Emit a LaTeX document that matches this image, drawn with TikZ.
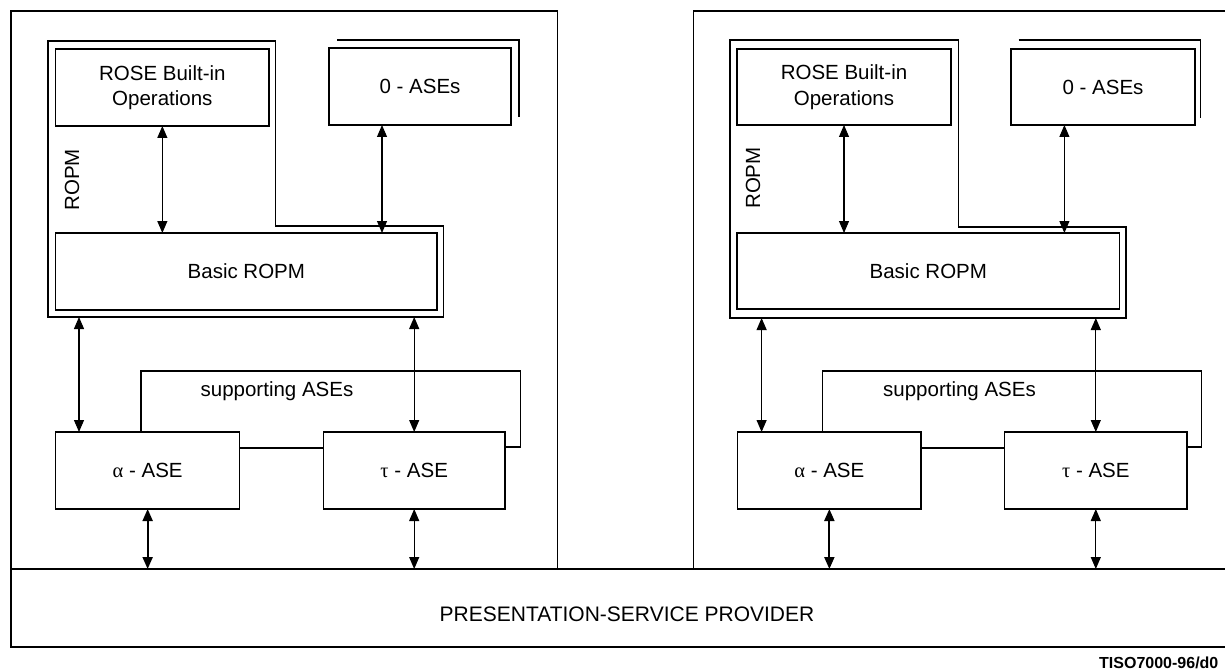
\documentclass[tikz,border=0pt]{standalone}
\usepackage{fontspec}
\setmainfont{Liberation Sans}
\newfontfamily\grk{Liberation Serif}
\usetikzlibrary{arrows.meta}
\newcommand\diaglabel{\fontsize{20.5}{25.5}\selectfont}

\begin{document}
\begin{tikzpicture}[x=1pt,y=-1pt,
  box/.style={draw, line width=1.4pt, outer sep=0pt, inner sep=0pt,
              anchor=north west, align=center, font=\diaglabel},
  frame/.style={draw, line width=1.3pt},
  outline/.style={draw, line width=1.2pt},
  biarrow/.style={{Triangle[length=12pt,width=10pt]}-{Triangle[length=12pt,width=10pt]},
                  line width=1.1pt},
  thickarrow/.style={biarrow, line width=2pt},
  txt/.style={font=\diaglabel, inner sep=0pt}]

\clip (0,0) rectangle (1225,671);

% ---------- presentation service provider ----------
\node[box, line width=1.3pt, minimum width=1240pt, minimum height=78pt] (prov) at (11,569) {};
\node[txt, font=\fontsize{21}{25}\selectfont] (provtext) at (627,614) {PRESENTATION-SERVICE PROVIDER};
\node[font=\bfseries\fontsize{16}{19}\selectfont, anchor=west, inner sep=0pt] (code) at (1099,663) {TISO7000-96/d0};

% ======================= left application entity =======================
\draw[frame] (11,11) rectangle (557.5,569);

\coordinate (oL1) at (48,41);
\coordinate (oL2) at (275.6,41);
\coordinate (oL3) at (275.6,226);
\coordinate (oL4) at (443.6,226);
\coordinate (oL5) at (443.6,317);
\coordinate (oL6) at (48,317);
\draw[outline] (oL1) -- (oL2) -- (oL3) -- (oL4) -- (oL5) -- (oL6) -- cycle;
\node[txt, rotate=90] (ropmL) at (72,180) {ROPM};

\node[box, minimum width=213.3pt, minimum height=77pt] (roseL) at (55.7,49) {ROSE Built-in\\Operations};
\node[box, minimum width=182pt, minimum height=77pt] (aseL) at (329,48) {0 - ASEs};
\draw[line width=1.3pt] ([shift={(8,-8)}]aseL.north west) -| ([shift={(8,-8)}]aseL.south east);
\node[box, minimum width=381.3pt, minimum height=77pt] (basicL) at (55.7,233) {Basic ROPM};

\node[box, minimum width=183.9pt, minimum height=77pt] (alphaL) at (55.7,432) {{\grk α} - ASE};
\node[box, minimum width=181.6pt, minimum height=77pt] (tauL) at (323.4,432) {{\grk τ} - ASE};

\draw[biarrow] (roseL.south) -- (roseL.south |- basicL.north);
\coordinate (aseLfoot) at ([xshift=53pt]aseL.south west);
\draw[biarrow] (aseLfoot) -- (aseLfoot |- basicL.north);

\coordinate (alphaLtop) at ([xshift=23.3pt]alphaL.north west);
\draw[biarrow] (alphaLtop |- oL6) -- (alphaLtop);
\draw[biarrow] (tauL.north |- oL6) -- (tauL.north);

% supporting ASEs grouping
\coordinate (supLfoot) at ([xshift=85.3pt]alphaL.north west);
\coordinate (supLcorner) at (520.7,371);
\draw[line width=1.3pt] (supLfoot) |- (supLcorner) |- ([yshift=-15pt]tauL.north east);
\draw[line width=1.3pt] ([yshift=-16pt]alphaL.north east) -- ([yshift=-16pt]tauL.north west);
\node[txt] (supL) at (277,391) {supporting ASEs};

\draw[thickarrow] (alphaL.south) -- (alphaL.south |- prov.north);
\draw[biarrow] (tauL.south) -- (tauL.south |- prov.north);

% ======================= right application entity =======================
\draw[frame] (693.3,11) rectangle (1240,569);

\coordinate (oR1) at (730,40);
\coordinate (oR2) at (958.4,40);
\coordinate (oR3) at (958.4,227);
\coordinate (oR4) at (1126,227);
\coordinate (oR5) at (1126,318);
\coordinate (oR6) at (730,318);
\draw[outline] (oR1) -- (oR2) -- (oR3) -- (oR4) -- (oR5) -- (oR6) -- cycle;
\node[txt, rotate=90] (ropmR) at (753,178) {ROPM};

\node[box, minimum width=214pt, minimum height=76pt] (roseR) at (737,49) {ROSE Built-in\\Operations};
\node[box, minimum width=184pt, minimum height=76pt] (aseR) at (1011,49) {0 - ASEs};
\draw[line width=1.3pt] ([shift={(7.5,-9)}]aseR.north west) -| ([shift={(5.6,-7)}]aseR.south east);
\node[box, minimum width=382.6pt, minimum height=76pt] (basicR) at (737,233) {Basic ROPM};

\node[box, minimum width=183.3pt, minimum height=77pt] (alphaR) at (737.7,432) {{\grk α} - ASE};
\node[box, minimum width=182.4pt, minimum height=77pt] (tauR) at (1004.6,432) {{\grk τ} - ASE};

\draw[biarrow] (roseR.south) -- (roseR.south |- basicR.north);
\coordinate (aseRfoot) at ([xshift=53.4pt]aseR.south west);
\draw[biarrow] (aseRfoot) -- (aseRfoot |- basicR.north);

\coordinate (alphaRtop) at ([xshift=23.9pt]alphaR.north west);
\draw[biarrow] (alphaRtop |- oR6) -- (alphaRtop);
\draw[biarrow] (tauR.north |- oR6) -- (tauR.north);

\coordinate (supRfoot) at ([xshift=84.8pt]alphaR.north west);
\coordinate (supRcorner) at (1201.8,371);
\draw[line width=1.3pt] (supRfoot) |- (supRcorner) |- ([yshift=-15pt]tauR.north east);
\draw[line width=1.3pt] ([yshift=-16pt]alphaR.north east) -- ([yshift=-16pt]tauR.north west);
\node[txt] (supR) at (959.5,391) {supporting ASEs};

\draw[thickarrow] (alphaR.south) -- (alphaR.south |- prov.north);
\draw[biarrow] (tauR.south) -- (tauR.south |- prov.north);

\end{tikzpicture}
\end{document}
